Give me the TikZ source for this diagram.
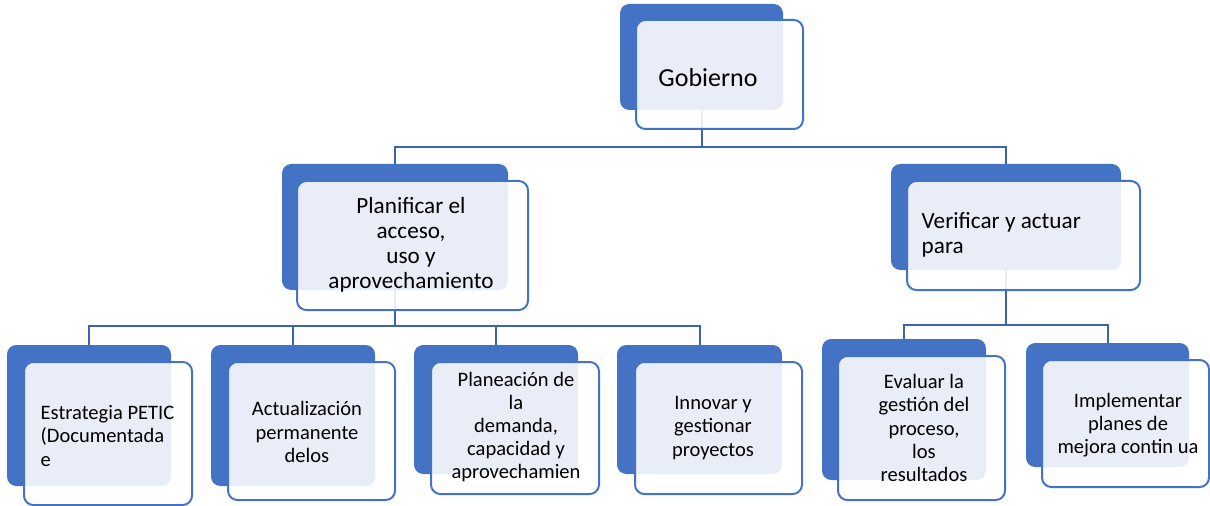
\documentclass[tikz,border=0pt]{standalone}
\usepackage{fontspec}
\setmainfont{Carlito}
\usetikzlibrary{fit}
\definecolor{orgBlue}{HTML}{4472C4}
\definecolor{orgLine}{HTML}{3C63AE}

\begin{document}
\begin{tikzpicture}[x=0.75pt,y=-0.75pt]
  \tikzset{
    backbox/.style={fill=orgBlue,rounded corners=7pt,inner sep=0pt},
    frontbox/.style={draw=orgBlue,line width=1.5pt,fill=white,fill opacity=0.88,rounded corners=7pt,inner sep=0pt},
    link/.style={draw=orgLine,line width=1.5pt},
    bigtext/.style={font=\fontsize{19.5}{22}\selectfont,text=black},
    midtext/.style={font=\fontsize{17.4}{18.75}\selectfont,text=black,align=center},
    smalltext/.style={font=\fontsize{15.4}{17.4}\selectfont,text=black,align=center}
  }
  \useasboundingbox (0,0) rectangle (1210,506);

  % back boxes
  \node[backbox,fit={(620,4) (783,110)}] (gobB) {};
  \node[backbox,fit={(282,164) (508,290)}] (planB) {};
  \node[backbox,fit={(891,164) (1121,270)}] (verB) {};
  \node[backbox,fit={(7,345) (171,486)}] (estrB) {};
  \node[backbox,fit={(211,345) (375,486)}] (actB) {};
  \node[backbox,fit={(414,345) (578,474)}] (demB) {};
  \node[backbox,fit={(617,345) (782,474)}] (innB) {};
  \node[backbox,fit={(822,339) (986,480)}] (evaB) {};
  \node[backbox,fit={(1026,343) (1189,467)}] (impB) {};

  % connectors
  \draw[link] (gobB.south) -- ++(0,37) -| (planB.north);
  \draw[link] (gobB.south) -- ++(0,37) -| (verB.north);
  \foreach \child in {estrB,actB,demB,innB}
    {\draw[link] (planB.south) -- ++(0,36) -| (\child.north);}
  \foreach \child in {evaB,impB}
    {\draw[link] (verB.south) -- ++(0,55) -| (\child.north);}

  % front boxes
  \node[frontbox,fit={(636,20) (803,129)}] (gobF) {};
  \node[frontbox,fit={(297,181) (528,310)}] (planF) {};
  \node[frontbox,fit={(907,181) (1140,290)}] (verF) {};
  \node[frontbox,fit={(24,362) (192,505)}] (estrF) {};
  \node[frontbox,fit={(228,362) (395,500)}] (actF) {};
  \node[frontbox,fit={(431,362) (599,494)}] (demF) {};
  \node[frontbox,fit={(635,362) (802,494)}] (innF) {};
  \node[frontbox,fit={(838,356) (1005,500)}] (evaF) {};
  \node[frontbox,fit={(1042,360) (1209,487)}] (impF) {};

  % labels
  \node[bigtext] (gobT) at (708,78) {Gobierno};
  \node[midtext] (planT) at (411,245) {Planificar el\\acceso,\\uso y\\aprovechamiento};
  \node[midtext,align=left,anchor=west] (verT) at (917,235) {Verificar y actuar\\para};
  \node[smalltext,align=left,anchor=west] (estrT) at (36,436) {Estrategia PETIC\\(Documentada\\e};
  \node[smalltext] (actT) at (307,432) {Actualización\\permanente\\delos};
  \node[smalltext] (demT) at (516,427) {Planeación de\\la\\demanda,\\capacidad y\\aprovechamien};
  \node[smalltext] (innT) at (713,428) {Innovar y\\gestionar\\proyectos};
  \node[smalltext] (evaT) at (924,428) {Evaluar la\\gestión del\\proceso,\\los\\resultados};
  \node[smalltext] (impT) at (1128,425) {Implementar\\planes de\\mejora contin ua};
\end{tikzpicture}
\end{document}
